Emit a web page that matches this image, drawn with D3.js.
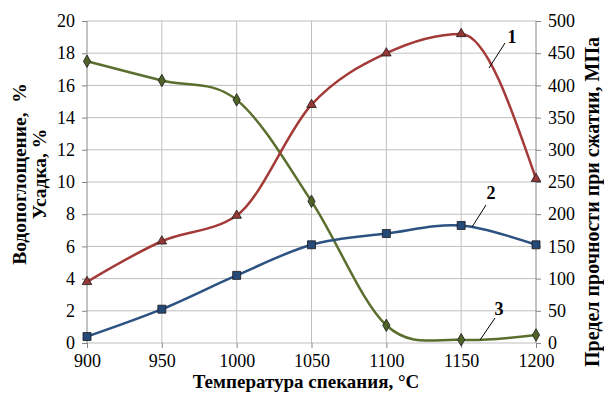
<!DOCTYPE html>
<html>
<head>
<meta charset="utf-8">
<script src="https://cdn.jsdelivr.net/npm/d3@7"></script>
<style>
  body { margin: 0; background: #fff; }
  svg text { font-family: 'Liberation Serif', 'Times New Roman', serif !important; fill: #000; }
  .axis path { display: none; }
  .axis line { stroke: #868686; }
  .axis text { font-size: 18px; }
  .title { font-size: 18px; font-weight: bold; white-space: pre; }
</style>
</head>
<body>
<svg width="604" height="395"></svg>
<script>
// temperatures, °C
var temps = [900, 950, 1000, 1050, 1100, 1150, 1200];
// 1 - compressive strength, MPa (right axis)
var strength = [95, 158, 198, 370, 450, 480, 255];
// 2 - shrinkage, % (left axis)
var shrink = [0.4, 2.1, 4.2, 6.1, 6.8, 7.3, 6.1];
// 3 - water absorption, % (left axis)
var water = [17.5, 16.3, 15.1, 8.8, 1.1, 0.2, 0.5];

var leftTicks = [0, 2, 4, 6, 8, 10, 12, 14, 16, 18, 20];
var rightTicks = [0, 50, 100, 150, 200, 250, 300, 350, 400, 450, 500];

var svg = d3.select("svg"),
    margin = {top: 21, right: 68, bottom: 52, left: 87},
    width = +svg.attr("width"),
    height = +svg.attr("height");

var x = d3.scaleLinear().domain([900, 1200]).range([margin.left, width - margin.right]);
var y = d3.scaleLinear().domain([0, 20]).range([height - margin.bottom, margin.top]);
var y2 = d3.scaleLinear().domain([0, 500]).range([height - margin.bottom, margin.top]);

// gridlines
svg.append("g")
    .selectAll("line")
    .data(leftTicks)
    .enter().append("line")
    .attr("x1", x(900)).attr("x2", x(1200))
    .attr("y1", function(d) { return y(d); })
    .attr("y2", function(d) { return y(d); })
    .attr("stroke", "#bfbfbf");

svg.append("g")
    .selectAll("line")
    .data(temps)
    .enter().append("line")
    .attr("x1", function(d) { return x(d); })
    .attr("x2", function(d) { return x(d); })
    .attr("y1", y(0)).attr("y2", y(20))
    .attr("stroke", function(d) { return d == 900 || d == 1200 ? "#868686" : "#bfbfbf"; });

// axes
var fmt = d3.format("d");
function styleAxis(g) {
    g.attr("font-family", null).attr("font-size", null);
}

svg.append("g")
    .attr("class", "x axis")
    .attr("transform", "translate(0," + y(0) + ")")
    .call(d3.axisBottom(x).tickValues(temps).tickFormat(fmt).tickSize(5).tickPadding(6))
    .call(styleAxis);

svg.append("g")
    .attr("class", "y axis")
    .attr("transform", "translate(" + x(900) + ",0)")
    .call(d3.axisLeft(y).tickValues(leftTicks).tickFormat(fmt).tickSize(5).tickPadding(7))
    .call(styleAxis);

svg.append("g")
    .attr("class", "y axis")
    .attr("transform", "translate(" + x(1200) + ",0)")
    .call(d3.axisRight(y2).tickValues(rightTicks).tickFormat(fmt).tickSize(5).tickPadding(7))
    .call(styleAxis);

function drawSeries(values, yScale, curve, color, markFill, symbol, size) {
    var pts = temps.map(function(t, i) { return [x(t), yScale(values[i])]; });
    svg.append("path")
        .attr("d", d3.line().curve(curve)(pts))
        .attr("fill", "none")
        .attr("stroke", color)
        .attr("stroke-width", 2.5);
    svg.append("g")
        .selectAll("path")
        .data(pts)
        .enter().append("path")
        .attr("transform", function(d) { return "translate(" + d[0] + "," + d[1] + ")"; })
        .attr("d", d3.symbol().type(symbol).size(size))
        .attr("fill", markFill)
        .attr("stroke", "#1a1a1a")
        .attr("stroke-width", 0.8);
}

var smooth = d3.curveCardinal.tension(0);
drawSeries(water, y, smooth, "#5a6e2d", "#4f6228", d3.symbolDiamond, 45);
drawSeries(shrink, y, smooth, "#2c5282", "#254a78", d3.symbolSquare, 64);
drawSeries(strength, y2, d3.curveMonotoneX, "#a43a38", "#953735", d3.symbolTriangle, 40);

// series labels with leader lines
var labels = [
    {t: "1", lx: 512, ly: 43, x1: 489, y1: 68, x2: 505, y2: 43},
    {t: "2", lx: 491, ly: 199, x1: 472, y1: 227, x2: 486, y2: 205},
    {t: "3", lx: 499, ly: 315, x1: 480, y1: 340, x2: 495, y2: 318}
];
labels.forEach(function(d) {
    svg.append("line")
        .attr("x1", d.x1).attr("y1", d.y1)
        .attr("x2", d.x2).attr("y2", d.y2)
        .attr("stroke", "#000").attr("stroke-width", 1);
    svg.append("text")
        .attr("class", "title")
        .attr("x", d.lx).attr("y", d.ly)
        .attr("text-anchor", "middle")
        .text(d.t);
});

// axis titles
function title(txt, cx, cy, rotate, size) {
    return svg.append("text")
        .attr("class", "title")
        .attr("text-anchor", "middle")
        .attr("transform", "translate(" + cx + "," + cy + ")" + (rotate ? " rotate(-90)" : ""))
        .style("font-size", size + "px")
        .text(txt);
}

title("Температура спекания, °С", 306, 388, false, 19);
title("Водопоглощение,  %", 26, 174, true, 19.5);
title("Усадка, %", 46, 174, true, 19.5);
title("Предел прочности при сжатии, МПа", 599, 202, true, 20);
</script>
</body>
</html>
